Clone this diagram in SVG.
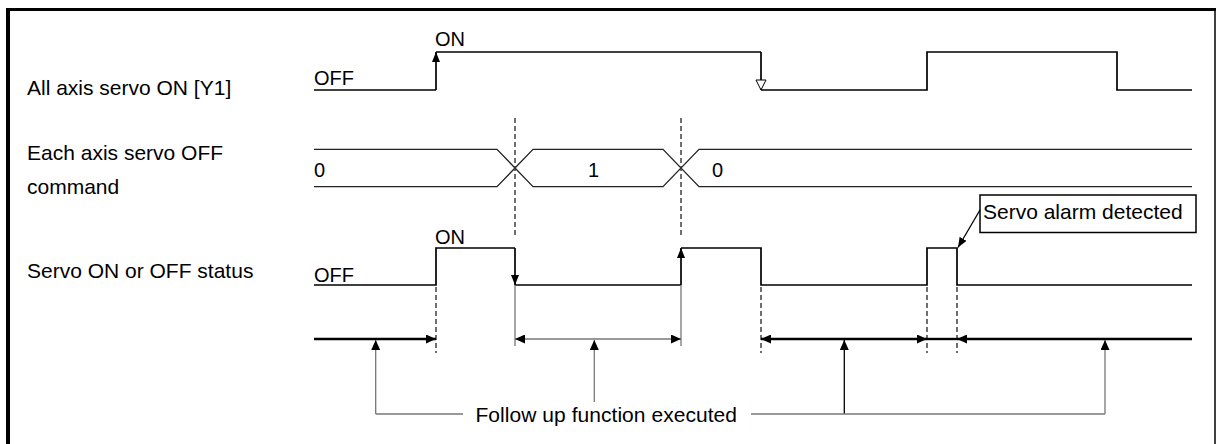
<svg xmlns="http://www.w3.org/2000/svg" width="1216" height="444" viewBox="0 0 1216 444">
<defs>
<style>
text{font-family:"Liberation Sans",Arial,sans-serif;fill:#000}
.lbl{font-size:21px}
.lv{font-size:20px}
.sig{fill:none;stroke:#000;stroke-width:1.7}
.bus{fill:none;stroke:#222;stroke-width:1.3}
.dash{fill:none;stroke:#333;stroke-width:1.4;stroke-dasharray:5,3}
.dim{fill:none;stroke:#000;stroke-width:2.4}
.dimg{fill:none;stroke:#777;stroke-width:1.6}
.ext{fill:none;stroke:#777;stroke-width:1.3}
.lead{fill:none;stroke:#777;stroke-width:1.3}
.leadk{fill:none;stroke:#000;stroke-width:1.3}
</style>
<marker id="ah" viewBox="0 0 10 9" refX="10" refY="4.5" markerWidth="10" markerHeight="9" orient="auto-start-reverse" markerUnits="userSpaceOnUse"><path d="M0,0 L10,4.5 L0,9 z" fill="#000"/></marker>
<marker id="ahs" viewBox="0 0 10 8" refX="10" refY="4" markerWidth="10" markerHeight="8" orient="auto-start-reverse" markerUnits="userSpaceOnUse"><path d="M0,0 L10,4 L0,8 z" fill="#000"/></marker>
<marker id="aho" viewBox="0 0 12 12" refX="11" refY="6" markerWidth="12" markerHeight="12" orient="auto" markerUnits="userSpaceOnUse"><path d="M1,1 L11,6 L1,11 z" fill="#fff" stroke="#000" stroke-width="1"/></marker>
</defs>
<rect x="0" y="0" width="1216" height="444" fill="#fff"/>
<g id="frame" fill="none" stroke="#000">
<path d="M8,8 V444" stroke-width="4"/>
<path d="M6,9.5 H1216" stroke-width="3"/>
<path d="M1215,9 V444" stroke-width="1.5"/>
</g>
<g id="labels">
<text class="lbl" x="27" y="95">All axis servo ON [Y1]</text>
<text class="lbl" x="27" y="160">Each axis servo OFF</text>
<text class="lbl" x="27" y="194">command</text>
<text class="lbl" x="27" y="278">Servo ON or OFF status</text>
</g>
<g id="sig-y1">
<text class="lv" x="314" y="85">OFF</text>
<text class="lv" x="435" y="46">ON</text>
<path class="sig" d="M314,90 H436"/>
<path class="sig" d="M436,90 V52" marker-end="url(#ahs)"/>
<path class="sig" d="M436,52 H761"/>
<path class="sig" d="M761,52 V90" stroke-width="1.2" marker-end="url(#aho)"/>
<path class="sig" d="M761,90 H927 V52 H1117 V90 H1192" stroke-width="1.9"/>
</g>
<g id="sig-cmd">
<path class="bus" d="M314,149.3 H497 L533,186.7 H663 L699,149.3 H1192"/>
<path class="bus" d="M314,186.7 H497 L533,149.3 H663 L699,186.7 H1192"/>
<text class="lv" x="314" y="177">0</text>
<text class="lv" x="588" y="177">1</text>
<text class="lv" x="712" y="177">0</text>
</g>
<g id="sig-status">
<text class="lv" x="314" y="282">OFF</text>
<text class="lv" x="435" y="244">ON</text>
<path class="sig" d="M314,285 H436 V248 H515"/>
<path class="sig" d="M515,248 V285" marker-end="url(#ahs)"/>
<path class="sig" d="M515,285 H681"/>
<path class="sig" d="M681,285 V248" marker-end="url(#ahs)"/>
<path class="sig" d="M681,248 H761 V285 H927 V248 H957 V285 H1192"/>
</g>
<g id="callout">
<rect x="980" y="195" width="216" height="37.5" fill="#fff" stroke="#000" stroke-width="1.5"/>
<text class="lbl" x="983" y="218.5">Servo alarm detected</text>
</g>
<g id="connectors">
<path class="dash" d="M515,118 V237"/>
<path class="dash" d="M681,118 V237"/>
<path class="dash" d="M436,287 V353"/>
<path class="dash" d="M761,287 V353"/>
<path class="dash" d="M927,287 V353"/>
<path class="dash" d="M957,287 V353"/>
<path class="ext" d="M515,285 V346"/>
<path class="ext" d="M681,285 V346"/>
<path class="leadk" d="M980,210 L958,247.5" stroke-width="1" marker-end="url(#ahs)"/>
<path class="dim" d="M314,339 H436" marker-end="url(#ah)"/>
<path class="dimg" d="M515,339 H681" marker-start="url(#ah)" marker-end="url(#ah)"/>
<path class="dim" d="M761,339 H927" marker-start="url(#ah)" marker-end="url(#ah)"/>
<path class="dim" d="M927,339 H957"/>
<path class="dim" d="M957,339 H1192" marker-start="url(#ah)"/>
<path class="lead" d="M375.7,414 V340" marker-end="url(#ah)"/>
<path class="lead" d="M594.3,402 V340" marker-end="url(#ah)"/>
<path class="leadk" d="M844.3,414 V340" marker-end="url(#ah)"/>
<path class="lead" d="M1105,414 V340" marker-end="url(#ah)"/>
<path class="lead" d="M375.7,414 H463"/>
<path class="lead" d="M751,414 H1105" stroke="#555"/>
<text class="lbl" x="475.5" y="421.5" textLength="261.5">Follow up function executed</text>
</g>
</svg>
